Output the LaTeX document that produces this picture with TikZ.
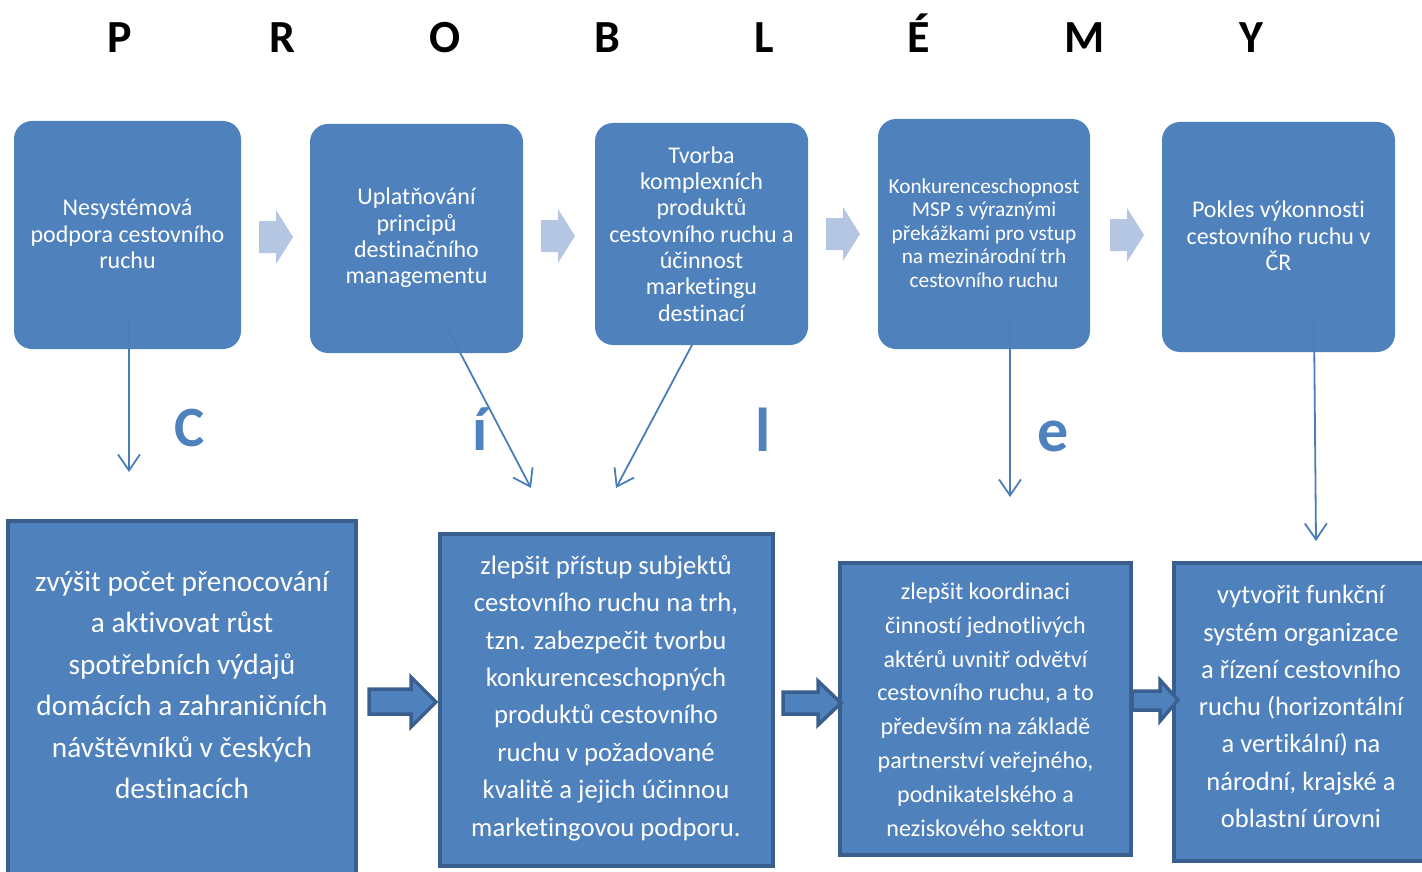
\documentclass[tikz,border=0pt]{standalone}
\usepackage{fontspec}
\setmainfont{Carlito}[Ligatures=NoCommon]
\usetikzlibrary{arrows.meta}
\definecolor{acc}{HTML}{4F81BD}
\definecolor{accd}{HTML}{3A5F8E}
\definecolor{lt}{HTML}{B4C6E2}
\definecolor{ln}{HTML}{4A7EBB}
\begin{document}
\begin{tikzpicture}[x=1pt,y=-1pt,
  topbox/.style={fill=acc, rounded corners=18pt, inner sep=0pt},
  botbox/.style={fill=acc, draw=accd, line width=4pt, inner sep=0pt},
  toptxt/.style={text=white, align=center, font=\fontsize{24}{26.3}\selectfont, inner sep=0pt},
  bottxt/.style={text=white, align=center, inner sep=0pt},
  title/.style={anchor=base, font=\fontsize{46}{50}\selectfont\bfseries, text=black, inner sep=0pt},
  bletter/.style={anchor=base, font=\fontsize{62}{66}\selectfont\bfseries, text=acc, inner sep=0pt},
  lightarrow/.style={fill=lt},
  blockarrow/.style={fill=acc, draw=accd, line width=3.5pt, line join=miter},
  thin/.style={draw=ln, line width=1.8pt, -{Straight Barb[length=16pt,width=22pt,line width=1.8pt]}}
]
\useasboundingbox (0,0) rectangle (1422,872);

% title letters
\node[title] (tP) at (120,53) {P};
\node[title] (tR) at (282,53) {R};
\node[title] (tO) at (445,53) {O};
\node[title] (tB) at (607,53) {B};
\node[title] (tL) at (764,53) {L};
\node[title] (tE) at (919,53) {É};
\node[title] (tM) at (1085,53) {M};
\node[title] (tY) at (1251,53) {Y};

% top boxes
\path[topbox] (14,121) rectangle (241,349);
\path[topbox] (310,124) rectangle (523,353);
\path[topbox] (595,123) rectangle (808,345);
\path[topbox] (878,119) rectangle (1090,349);
\path[topbox] (1162,122) rectangle (1395,352);

\node[toptxt] (x1) at (127.5,234) {Nesystémová\\podpora cestovního\\ruchu};
\node[toptxt] (x2) at (416.5,238) {Uplatňování\\principů\\destinačního\\managementu};
\node[toptxt] (x3) at (701.5,234) {Tvorba\\komplexních\\produktů\\cestovního ruchu a\\účinnost\\marketingu\\destinací};
\node[toptxt, font=\fontsize{21.3}{23.5}\selectfont] (x4) at (984,233) {Konkurenceschopnost\\MSP s výraznými\\překážkami pro vstup\\na mezinárodní trh\\cestovního ruchu};
\node[toptxt] (x5) at (1278.5,236) {Pokles výkonnosti\\cestovního ruchu v\\ČR};

% light arrows between top boxes
\foreach \x/\y in {259/237, 541/236, 826/234, 1110/235}{
  \path[lightarrow] (\x,\y-16) -- (\x+17,\y-16) -- (\x+17,\y-27) -- (\x+34,\y) -- (\x+17,\y+27) -- (\x+17,\y+16) -- (\x,\y+16) -- cycle;
}

% bottom boxes
\path[botbox] (8,521) rectangle (356,880);
\path[botbox] (440,534) rectangle (773,866);
\path[botbox] (840,563) rectangle (1131,855);
\path[botbox] (1174,563) rectangle (1432,861);

\node[bottxt, font=\fontsize{29.3}{41.4}\selectfont] (y1) at (182,685) {zvýšit počet přenocování\\a aktivovat růst\\spotřebních výdajů\\domácích a zahraničních\\návštěvníků v českých\\destinacích};
\node[bottxt, font=\fontsize{26.7}{37.4}\selectfont] (y2) at (606,698) {zlepšit přístup subjektů\\cestovního ruchu na trh,\\tzn. zabezpečit tvorbu\\konkurenceschopných\\produktů cestovního\\ruchu v požadované\\kvalitě a jejich účinnou\\marketingovou podporu.};
\node[bottxt, font=\fontsize{24}{33.8}\selectfont] (y3) at (985.5,709.5) {zlepšit koordinaci\\činností jednotlivých\\aktérů uvnitř odvětví\\cestovního ruchu, a to\\především na základě\\partnerství veřejného,\\podnikatelského a\\neziskového sektoru};
\node[bottxt, font=\fontsize{26.5}{37.3}\selectfont] (y4) at (1301,706.5) {vytvořit funkční\\systém organizace\\a řízení cestovního\\ruchu (horizontální\\a vertikální) na\\národní, krajské a\\oblastní úrovni};

% bottom block arrows
\path[blockarrow] (369,689) -- (411,689) -- (411,677) -- (436,702) -- (411,727) -- (411,714) -- (369,714) -- cycle;
\path[blockarrow] (783,692) -- (818,692) -- (818,681) -- (841,703) -- (818,725) -- (818,714) -- (783,714) -- cycle;
\path[blockarrow] (1132,691) -- (1160,691) -- (1160,680) -- (1178,700) -- (1160,721) -- (1160,710) -- (1132,710) -- cycle;

% blue letters
\node[bletter, font=\fontsize{57}{60}\selectfont\bfseries] (lC) at (190,446) {C};
\node[bletter] (li) at (480,450) {í};
\node[bletter] (ll) at (763,451) {l};
\node[bletter] (le) at (1053,451) {e};

% thin arrows
\coordinate (s1) at (129,320); \coordinate (e1) at (129,472);
\coordinate (s2) at (443,320); \coordinate (e2) at (531,488);
\coordinate (s3) at (692,345); \coordinate (e3) at (616,488);
\coordinate (s4) at (1010,320); \coordinate (e4) at (1010,497);
\coordinate (s5) at (1314,320); \coordinate (e5) at (1316,541);
\draw[thin] (s1) -- (e1);
\draw[thin] (s2) -- (e2);
\draw[thin] (s3) -- (e3);
\draw[thin] (s4) -- (e4);
\draw[thin] (s5) -- (e5);
\end{tikzpicture}
\end{document}
